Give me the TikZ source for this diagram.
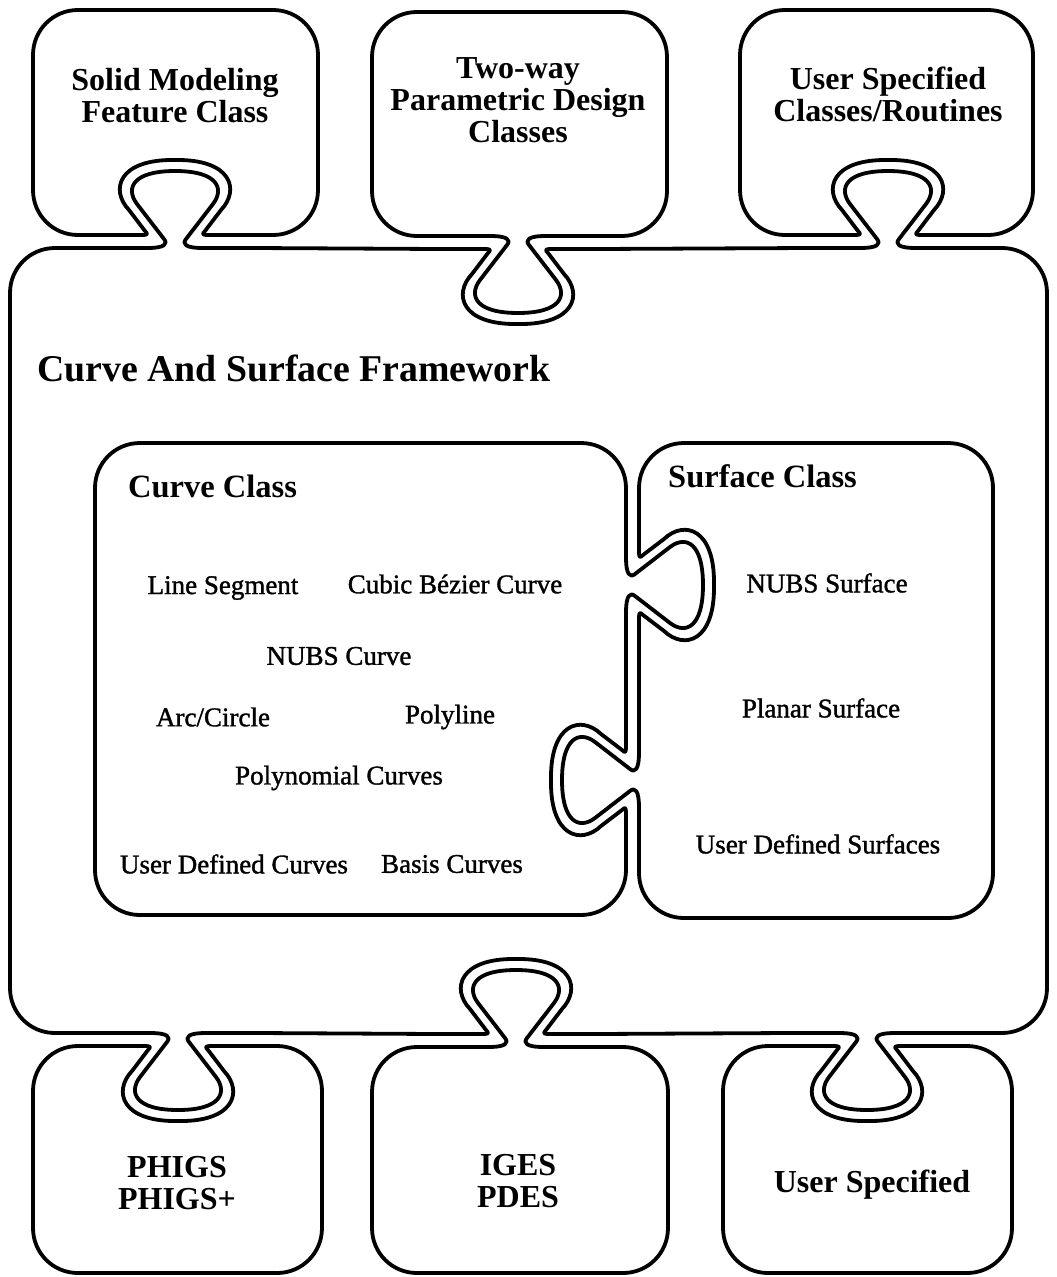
\documentclass[tikz,border=0pt]{standalone}
\usepackage{fontspec}
\setmainfont{Liberation Serif}
\newfontfamily\itemfamily[FakeBold=1.3]{Liberation Serif}

% Profile of an interlocking tab: index / along / across.
% "in" is the outline of the piece that owns the tab,
% "out" is the outline of the piece that receives it.
\def\inprof{0/-80/0, 1/-28/0, 2/-10/0, 3/-7/4, 4/-11/9, 5/-38/44, 6/-50/60, 7/-42/77, 8/0/77,
  9/42/77, 10/50/60, 11/38/44, 12/11/9, 13/7/4, 14/10/0, 15/28/0, 16/80/0}
\def\outprof{0/-80/13, 1/-36/13, 2/-28/13, 3/-26/13, 4/-30/17, 5/-46/38, 6/-65/58, 7/-57/89, 8/0/88,
  9/57/89, 10/65/58, 11/46/38, 12/30/17, 13/26/13, 14/28/13, 15/36/13, 16/80/13}

% \defknob{name}{centre}{along-vector}{across-vector}
\newcommand\defknob[4]{%
  \begin{scope}[shift={#2}, x={#3}, y={#4}]
    \foreach \n/\a/\b in \inprof {\coordinate (#1-i\n) at (\a,\b);}
    \foreach \n/\a/\b in \outprof {\coordinate (#1-o\n) at (\a,\b);}
  \end{scope}}

% tab outline, walked forwards / backwards
\newcommand\kf[2]{-- (#1-#20) -- (#1-#21) .. controls (#1-#22) and (#1-#23) .. (#1-#24)
  -- (#1-#25) .. controls (#1-#26) and (#1-#27) .. (#1-#28)
  .. controls (#1-#29) and (#1-#210) .. (#1-#211)
  -- (#1-#212) .. controls (#1-#213) and (#1-#214) .. (#1-#215) -- (#1-#216)}
\newcommand\kb[2]{-- (#1-#216) -- (#1-#215) .. controls (#1-#214) and (#1-#213) .. (#1-#212)
  -- (#1-#211) .. controls (#1-#210) and (#1-#29) .. (#1-#28)
  .. controls (#1-#27) and (#1-#26) .. (#1-#25)
  -- (#1-#24) .. controls (#1-#23) and (#1-#22) .. (#1-#21) -- (#1-#20)}

\tikzset{
  piece/.style={line width=3.8pt, line join=round, line cap=round},
  head/.style={font=\fontsize{32}{32}\selectfont\bfseries, align=center, inner sep=0pt},
  bighead/.style={font=\fontsize{37.8}{38}\selectfont\bfseries, inner sep=0pt, anchor=west},
  classhead/.style={font=\fontsize{32.5}{33}\selectfont\bfseries, inner sep=0pt, anchor=west},
  item/.style={font=\itemfamily\fontsize{27}{28}\selectfont, inner sep=0pt},
}

\begin{document}
\begin{tikzpicture}[x=1pt,y=-1pt]
\path[fill=white] (0,0) rectangle (1057,1277);
\useasboundingbox (0,0) rectangle (1057,1277);

% tabs
\defknob{K1}{(175,248)}{(1pt,0pt)}{(0pt,1pt)}
\defknob{K2}{(518,236)}{(1pt,0pt)}{(0pt,-1pt)}
\defknob{K3}{(888,248)}{(1pt,0pt)}{(0pt,1pt)}
\defknob{K4}{(178,1033)}{(1pt,0pt)}{(0pt,-1pt)}
\defknob{K5}{(516,1047)}{(1pt,0pt)}{(0pt,1pt)}
\defknob{K6}{(867,1033)}{(1pt,0pt)}{(0pt,-1pt)}
\defknob{K7}{(626,585)}{(0pt,-1pt)}{(1pt,0pt)}
\defknob{K8}{(639,780)}{(0pt,-1pt)}{(-1pt,0pt)}

% framework
\draw[piece] (55,248) \kf{K1}{i} \kf{K2}{o} \kf{K3}{i}
  -- (1002,248) .. controls (1027,248) and (1047,268) .. (1047,293)
  -- (1047,988) .. controls (1047,1013) and (1027,1033) .. (1002,1033)
  \kb{K6}{i} \kb{K5}{o} \kb{K4}{i}
  -- (55,1033) .. controls (30,1033) and (10,1013) .. (10,988)
  -- (10,293) .. controls (10,268) and (30,248) .. cycle;

% top pieces
\draw[piece] (78,10) -- (273,10) .. controls (298,10) and (318,30) .. (318,55)
  -- (318,190) .. controls (318,215) and (298,235) .. (273,235) \kb{K1}{o}
  -- (78,235) .. controls (53,235) and (33,215) .. (33,190)
  -- (33,55) .. controls (33,30) and (53,10) .. cycle;
\draw[piece] (417,12) -- (622,12) .. controls (647,12) and (667,32) .. (667,57)
  -- (667,191) .. controls (667,216) and (647,236) .. (622,236) \kb{K2}{i}
  -- (417,236) .. controls (392,236) and (372,216) .. (372,191)
  -- (372,57) .. controls (372,32) and (392,12) .. cycle;
\draw[piece] (785,10) -- (988,10) .. controls (1013,10) and (1033,30) .. (1033,55)
  -- (1033,190) .. controls (1033,215) and (1013,235) .. (988,235) \kb{K3}{o}
  -- (785,235) .. controls (760,235) and (740,215) .. (740,190)
  -- (740,55) .. controls (740,30) and (760,10) .. cycle;

% bottom pieces
\draw[piece] (78,1046) \kf{K4}{o}
  -- (277,1046) .. controls (302,1046) and (322,1066) .. (322,1091)
  -- (322,1228) .. controls (322,1253) and (302,1273) .. (277,1273)
  -- (78,1273) .. controls (53,1273) and (33,1253) .. (33,1228)
  -- (33,1091) .. controls (33,1066) and (53,1046) .. cycle;
\draw[piece] (417,1047) \kf{K5}{i}
  -- (623,1047) .. controls (648,1047) and (668,1067) .. (668,1092)
  -- (668,1228) .. controls (668,1253) and (648,1273) .. (623,1273)
  -- (417,1273) .. controls (392,1273) and (372,1253) .. (372,1228)
  -- (372,1092) .. controls (372,1067) and (392,1047) .. cycle;
\draw[piece] (768,1046) \kf{K6}{o}
  -- (967,1046) .. controls (992,1046) and (1012,1066) .. (1012,1091)
  -- (1012,1228) .. controls (1012,1253) and (992,1273) .. (967,1273)
  -- (768,1273) .. controls (743,1273) and (723,1253) .. (723,1228)
  -- (723,1091) .. controls (723,1066) and (743,1046) .. cycle;

% curve class
\draw[piece] (140,443) -- (581,443) .. controls (606,443) and (626,463) .. (626,488)
  \kf{K7}{i} \kf{K8}{o}
  -- (626,870) .. controls (626,895) and (606,915) .. (581,915)
  -- (140,915) .. controls (115,915) and (95,895) .. (95,870)
  -- (95,488) .. controls (95,463) and (115,443) .. cycle;

% surface class
\draw[piece] (684,443) -- (948,443) .. controls (973,443) and (993,463) .. (993,488)
  -- (993,873) .. controls (993,898) and (973,918) .. (948,918)
  -- (684,918) .. controls (659,918) and (639,898) .. (639,873)
  \kb{K8}{i} \kb{K7}{o}
  -- (639,488) .. controls (639,463) and (659,443) .. cycle;

% labels
\node[head] (solid) at (175,96) {Solid Modeling\\Feature Class};
\node[head] (twoway) at (518,100) {Two-way\\Parametric Design\\Classes};
\node[head] (userc) at (888,94) {User Specified\\Classes/Routines};
\node[bighead] (frame) at (37,368) {Curve And Surface Framework};
\node[classhead] (curvec) at (128,486) {Curve Class};
\node[classhead] (surfc) at (668,476) {Surface Class};

\node[item] (line) at (223,588) {Line Segment};
\node[item] (bez) at (455,584) {Cubic Bézier Curve};
\node[item] (nubsc) at (339,656) {NUBS Curve};
\node[item] (arc) at (213,717) {Arc/Circle};
\node[item] (poly) at (450,717) {Polyline};
\node[item] (polyn) at (339,778) {Polynomial Curves};
\node[item] (udc) at (234,864) {User Defined Curves};
\node[item] (basis) at (452,864) {Basis Curves};

\node[item] (nubss) at (827,583) {NUBS Surface};
\node[item] (planar) at (821,708) {Planar Surface};
\node[item] (uds) at (818,844) {User Defined Surfaces};

\node[head] (phigs) at (177,1183) {PHIGS\\PHIGS+};
\node[head] (iges) at (518,1181) {IGES\\PDES};
\node[head] (users) at (872,1185) {User Specified};
\end{tikzpicture}
\end{document}
